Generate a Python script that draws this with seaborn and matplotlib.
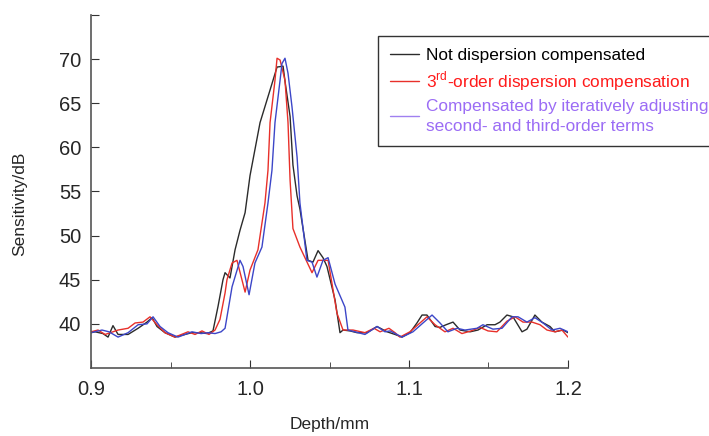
import numpy as np
import pandas as pd
import matplotlib
matplotlib.use("Agg")
import matplotlib.pyplot as plt
from matplotlib.ticker import MultipleLocator
import seaborn as sns

# Not dispersion compensated (black)
depth_raw = [0.9000, 0.9025, 0.9075, 0.9107, 0.9138, 0.9170, 0.9233, 0.9296, 0.9352, 0.9384,
             0.9415, 0.9465, 0.9528, 0.9591, 0.9635, 0.9686, 0.9730, 0.9767, 0.9799, 0.9830,
             0.9843, 0.9874, 0.9906, 0.9937, 0.9969, 1.0000, 1.0063, 1.0126, 1.0170, 1.0208,
             1.0220, 1.0252, 1.0270, 1.0296, 1.0314, 1.0365, 1.0396, 1.0428, 1.0459, 1.0484,
             1.0535, 1.0566, 1.0585, 1.0629, 1.0673, 1.0736, 1.0799, 1.0862, 1.0912, 1.0956,
             1.1006, 1.1050, 1.1082, 1.1113, 1.1164, 1.1195, 1.1233, 1.1277, 1.1321, 1.1384,
             1.1434, 1.1491, 1.1541, 1.1572, 1.1616, 1.1654, 1.1711, 1.1742, 1.1792, 1.1836,
             1.1887, 1.1918, 1.1969, 1.2000]
sens_raw = [39.0, 39.1, 38.9, 38.5, 39.8, 38.8, 38.8, 39.5, 40.2, 40.7,
            39.7, 39.0, 38.5, 38.8, 39.0, 39.0, 38.9, 39.2, 42.0, 45.0,
            45.8, 45.2, 48.4, 50.6, 52.6, 56.8, 62.8, 66.5, 69.1, 69.2,
            67.5, 63.5, 58.0, 54.5, 53.0, 47.2, 47.0, 48.3, 47.5, 46.5,
            42.7, 39.0, 39.3, 39.2, 39.0, 39.0, 39.7, 39.1, 38.8, 38.5,
            39.0, 40.1, 41.0, 41.0, 39.7, 39.6, 39.9, 40.2, 39.3, 39.1,
            39.3, 39.9, 39.9, 40.2, 41.0, 40.8, 39.1, 39.4, 41.0, 40.2,
            39.7, 39.1, 39.3, 39.0]

# 3rd-order dispersion compensation (red)
depth_3rd = [0.9000, 0.9044, 0.9088, 0.9138, 0.9170, 0.9233, 0.9277, 0.9327, 0.9371, 0.9415,
             0.9465, 0.9528, 0.9610, 0.9654, 0.9698, 0.9742, 0.9780, 0.9811, 0.9843, 0.9855,
             0.9887, 0.9918, 0.9969, 1.0000, 1.0050, 1.0094, 1.0113, 1.0126, 1.0157, 1.0170,
             1.0189, 1.0220, 1.0239, 1.0252, 1.0270, 1.0314, 1.0390, 1.0428, 1.0491, 1.0547,
             1.0585, 1.0648, 1.0723, 1.0780, 1.0818, 1.0874, 1.0912, 1.0943, 1.1006, 1.1069,
             1.1113, 1.1164, 1.1226, 1.1277, 1.1333, 1.1390, 1.1447, 1.1497, 1.1553, 1.1616,
             1.1667, 1.1717, 1.1774, 1.1824, 1.1868, 1.1918, 1.1962, 1.2000]
sens_3rd = [39.1, 39.3, 38.8, 39.1, 39.3, 39.5, 40.1, 40.2, 40.8, 39.9,
            39.0, 38.5, 39.1, 38.8, 39.2, 38.8, 39.3, 40.5, 43.5, 45.0,
            46.9, 47.2, 43.6, 46.1, 48.4, 53.7, 57.4, 62.8, 67.6, 70.1,
            69.9, 67.6, 62.8, 56.3, 50.8, 48.7, 45.8, 47.2, 47.2, 41.2,
            39.3, 39.3, 39.0, 39.5, 39.1, 39.5, 39.0, 38.5, 39.1, 40.1,
            40.8, 39.9, 39.1, 39.5, 38.9, 39.2, 39.6, 39.2, 39.1, 40.3,
            40.8, 40.2, 40.2, 39.9, 39.3, 39.1, 39.3, 38.5]

# Iteratively adjusted 2nd and 3rd order terms (blue)
depth_iter = [0.9000, 0.9069, 0.9113, 0.9170, 0.9233, 0.9296, 0.9352, 0.9390, 0.9434, 0.9484,
              0.9547, 0.9635, 0.9692, 0.9736, 0.9780, 0.9818, 0.9843, 0.9887, 0.9937, 0.9956,
              0.9994, 1.0031, 1.0075, 1.0113, 1.0138, 1.0157, 1.0189, 1.0201, 1.0220, 1.0239,
              1.0264, 1.0296, 1.0314, 1.0358, 1.0390, 1.0421, 1.0459, 1.0491, 1.0535, 1.0597,
              1.0616, 1.0660, 1.0723, 1.0799, 1.0849, 1.0881, 1.0956, 1.1025, 1.1088, 1.1145,
              1.1195, 1.1245, 1.1302, 1.1352, 1.1428, 1.1465, 1.1528, 1.1585, 1.1648, 1.1686,
              1.1742, 1.1792, 1.1843, 1.1899, 1.1950, 1.2000]
sens_iter = [39.0, 39.3, 39.1, 38.5, 39.0, 39.9, 40.0, 40.8, 39.7, 39.0,
             38.5, 39.1, 38.9, 39.0, 38.9, 39.1, 39.5, 44.2, 47.2, 46.5,
             43.3, 46.9, 48.7, 53.7, 57.4, 62.8, 67.6, 69.5, 70.1, 68.4,
             64.6, 58.9, 53.7, 47.2, 47.0, 45.3, 47.2, 47.5, 44.5, 41.9,
             39.3, 39.1, 38.8, 39.7, 39.1, 39.2, 38.5, 39.1, 40.1, 41.0,
             40.1, 39.1, 39.5, 39.3, 39.5, 39.9, 39.4, 39.5, 40.8, 40.8,
             40.2, 40.7, 40.1, 39.3, 39.5, 39.1]

labels = ["Not dispersion compensated",
          "3$^{\\mathrm{rd}}$-order dispersion compensation",
          "Compensated by iteratively adjusting\nsecond- and third-order terms"]
x_ticks = [0.9, 1.0, 1.1, 1.2]
x_tick_labels = ["0.9", "1.0", "1.1", "1.2"]
y_ticks = [40, 45, 50, 55, 60, 65, 70, 75]
y_tick_labels = ["40", "45", "50", "55", "60", "65", "70", ""]

sns.set_style("ticks")
plt.rcParams["font.family"] = ["Liberation Sans", "DejaVu Sans"]
plt.rcParams["mathtext.fontset"] = "custom"
plt.rcParams["mathtext.rm"] = "Liberation Sans"

fig = plt.figure(figsize=(7.09, 4.36), dpi=100)
ax = fig.add_axes([0.1284, 0.156, 0.6727, 0.8096])

series = [(depth_raw, sens_raw, "#2b2b2b"),
          (depth_3rd, sens_3rd, "#e8302a"),
          (depth_iter, sens_iter, "#3c46c8")]
for (d, s, c), lab in zip(series, labels):
    sns.lineplot(x=d, y=s, ax=ax, color=c, lw=1.0, sort=False,
                 estimator=None, label=lab, legend=False)

ax.set_xlim(0.9, 1.2)
ax.set_ylim(35, 75)
ax.set_xticks(x_ticks)
ax.set_xticklabels(x_tick_labels)
ax.set_yticks(y_ticks)
ax.set_yticklabels(y_tick_labels)
ax.xaxis.set_minor_locator(MultipleLocator(0.05))
ax.tick_params(axis="both", which="major", direction="in", length=6,
               labelsize=14.5, color="#333333")
ax.tick_params(axis="x", which="major", pad=9)
ax.tick_params(axis="y", which="major", pad=7)
ax.tick_params(axis="x", which="minor", direction="in", length=4, color="#333333")
for sp in ["top", "right"]:
    ax.spines[sp].set_visible(False)
for sp in ["left", "bottom"]:
    ax.spines[sp].set_color("#555555")
    ax.spines[sp].set_linewidth(1.2)

ax.set_xlabel("Depth/mm", fontsize=12.5)
ax.set_ylabel("Sensitivity/dB", fontsize=12.5)
ax.xaxis.set_label_coords(0.5, -0.161)
ax.xaxis.label.set_va("center")
ax.yaxis.set_label_coords(-0.149, 0.465)
ax.yaxis.label.set_va("center")

handles = ax.get_lines()[:3]
leg = fig.legend(handles=list(handles), labels=labels, loc="upper left",
                 bbox_to_anchor=(378 / 709, 1 - 36 / 436), borderaxespad=0,
                 fontsize=12.4, frameon=True, fancybox=False, handlelength=1.7,
                 handletextpad=0.4, labelspacing=0.35, borderpad=0.7)
leg.get_frame().set_edgecolor("black")
leg.get_frame().set_linewidth(1.0)
leg.get_lines()[2].set_color("#a080f0")
for t, c in zip(leg.get_texts(), ["black", "#ff1a1a", "#9b6cf5"]):
    t.set_color(c)
leg.get_texts()[2].set_linespacing(1.45)

fig.savefig("out.png", dpi=100)
